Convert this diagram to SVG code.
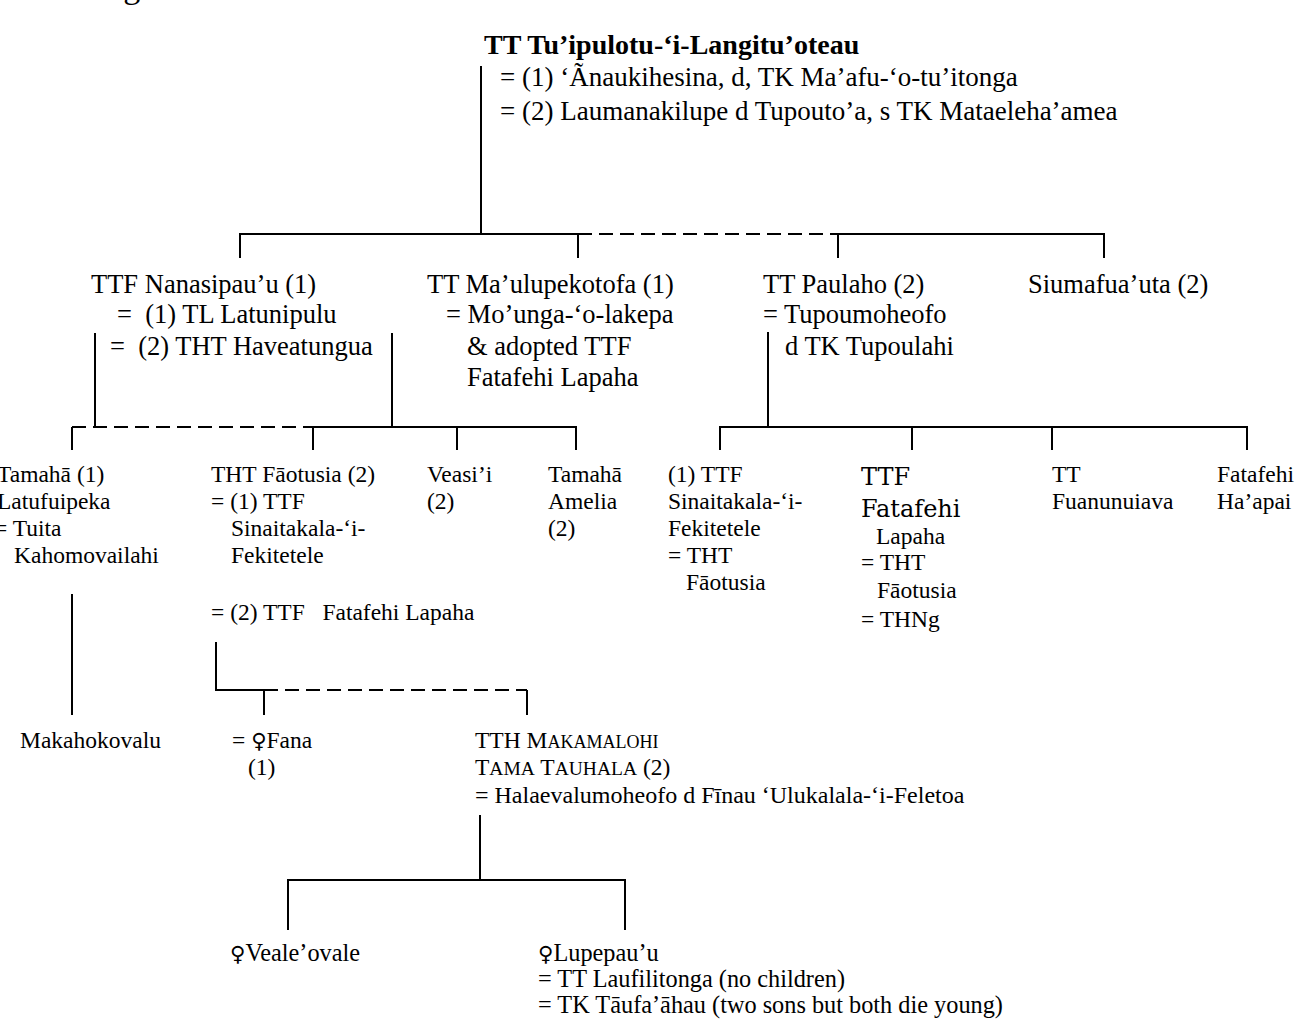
<svg xmlns="http://www.w3.org/2000/svg" width="1300" height="1025" viewBox="0 0 1300 1025">
<style>
text{font-family:"Liberation Serif","DejaVu Serif",serif;fill:#000;white-space:pre}
.ti{font-size:28px;font-weight:bold}
.a{font-size:26.5px}
.r{font-size:27px}
.b{font-size:23.5px}
.c{font-size:24px}
.e{font-size:24.3px}
.big{font-family:"DejaVu Serif","Liberation Serif",serif;font-size:24px}
.sc{font-size:18px}
.sc2{font-size:19.5px}
.fem{font-family:"DejaVu Sans","Noto Sans",sans-serif;font-size:21px}
.ln{stroke:#000;stroke-width:2;fill:none}
.d{stroke-dasharray:14 7}
</style>
<rect width="1300" height="1025" fill="#fff"/>
<g id="connectors">
<path class="ln" d="M481 66V234M240 258V234H578M838 234H1104V258M578 234V258M838 234V258"/>
<path class="ln d" d="M578 234H838"/>
<path class="ln" d="M95 333V427M392 333V427M313 427H576V450M313 427V450M457 427V450M72 427V450"/>
<path class="ln d" d="M72 427H313"/>
<path class="ln" d="M768 332V427M720 450V427H1247V450M912 427V450M1052 427V450"/>
<path class="ln" d="M72 594V715M216 642V690H264V715M527 690V715"/>
<path class="ln d" d="M264 690H527"/>
<path class="ln" d="M480 815V880M288 930V880H625V930"/>
</g>
<g id="fig"><text x="95" y="-2" style="font-size:34px">Figure</text></g>
<g id="root">
<text class="ti" x="484" y="54">TT Tu’ipulotu-‘i-Langitu’oteau</text>
<text class="r" x="500" y="86">= (1) ‘Ãnaukihesina, d, TK Ma’afu-‘o-tu’itonga</text>
<text class="r" x="500" y="120">= (2) Laumanakilupe d Tupouto’a, s TK Mataeleha’amea</text>
</g>
<g id="nanasipau">
<text class="a" x="91" y="293">TTF Nanasipau’u (1)</text>
<text class="a" x="117" y="323">=  (1) TL Latunipulu</text>
<text class="a" x="110" y="355">=  (2) THT Haveatungua</text>
</g>
<g id="maulupekotofa">
<text class="a" x="427" y="293">TT Ma’ulupekotofa (1)</text>
<text class="a" x="446" y="323">= Mo’unga-‘o-lakepa</text>
<text class="a" x="467" y="355">&amp; adopted TTF</text>
<text class="a" x="467" y="386">Fatafehi Lapaha</text>
</g>
<g id="paulaho">
<text class="a" x="763" y="293">TT Paulaho (2)</text>
<text class="a" x="763" y="323">= Tupoumoheofo</text>
<text class="a" x="785" y="355">d TK Tupoulahi</text>
</g>
<g id="siumafuauta">
<text class="a" x="1028" y="293">Siumafua’uta (2)</text>
</g>
<g id="tamaha1">
<text class="b" x="-3" y="482">Tamahā (1)</text>
<text class="b" x="-3" y="509">Latufuipeka</text>
<text class="b" x="-6" y="536">= Tuita</text>
<text class="b" x="14" y="563">Kahomovailahi</text>
</g>
<g id="faotusia">
<text class="b" x="211" y="482">THT Fāotusia (2)</text>
<text class="b" x="211" y="509">= (1) TTF</text>
<text class="b" x="231" y="536">Sinaitakala-‘i-</text>
<text class="b" x="231" y="563">Fekitetele</text>
<text class="b" x="211" y="620">= (2) TTF   Fatafehi Lapaha</text>
</g>
<g id="veasii">
<text class="b" x="427" y="482">Veasi’i</text>
<text class="b" x="427" y="509">(2)</text>
</g>
<g id="tamaha-amelia">
<text class="b" x="548" y="482">Tamahā</text>
<text class="b" x="548" y="509">Amelia</text>
<text class="b" x="548" y="536">(2)</text>
</g>
<g id="sinaitakala">
<text class="b" x="668" y="482">(1) TTF</text>
<text class="b" x="668" y="509">Sinaitakala-‘i-</text>
<text class="b" x="668" y="536">Fekitetele</text>
<text class="b" x="668" y="563">= THT</text>
<text class="b" x="686" y="590">Fāotusia</text>
</g>
<g id="fatafehi-lapaha">
<text class="big" x="861" y="485">TTF</text>
<text class="big" x="861" y="517">Fatafehi</text>
<text class="b" x="876" y="544">Lapaha</text>
<text class="b" x="861" y="570">= THT</text>
<text class="b" x="877" y="598">Fāotusia</text>
<text class="b" x="861" y="627">= THNg</text>
</g>
<g id="fuanunuiava">
<text class="b" x="1052" y="482">TT</text>
<text class="b" x="1052" y="509">Fuanunuiava</text>
</g>
<g id="fatafehi-haapai">
<text class="b" x="1217" y="482">Fatafehi</text>
<text class="b" x="1217" y="509">Ha’apai</text>
</g>
<g id="makahokovalu">
<text class="b" x="20" y="748">Makahokovalu</text>
</g>
<g id="fana">
<text class="b" x="232" y="748">= <tspan class="fem">♀</tspan>Fana</text>
<text class="b" x="248" y="775">(1)</text>
</g>
<g id="makamalohi">
<text class="b" x="475" y="748">TTH M<tspan class="sc">AKAMALOHI</tspan></text>
<text class="b" x="475" y="775">T<tspan class="sc2">AMA</tspan> T<tspan class="sc2">AUHALA</tspan> (2)</text>
<text class="c" x="475" y="803">= Halaevalumoheofo d Fīnau ‘Ulukalala-‘i-Feletoa</text>
</g>
<g id="vealeovale">
<text class="e" x="230" y="961"><tspan class="fem">♀</tspan>Veale’ovale</text>
</g>
<g id="lupepauu">
<text class="e" x="538" y="961"><tspan class="fem">♀</tspan>Lupepau’u</text>
<text class="e" x="538" y="987">= TT Laufilitonga (no children)</text>
<text class="e" x="538" y="1013">= TK Tāufa’āhau (two sons but both die young)</text>
</g>
</svg>
